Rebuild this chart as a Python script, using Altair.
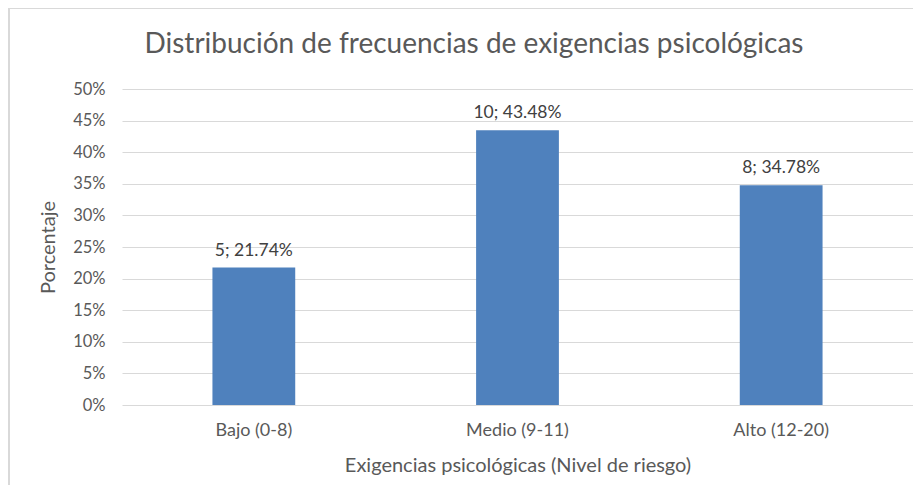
import altair as alt
import pandas as pd

categories = ["Bajo (0-8)", "Medio (9-11)", "Alto (12-20)"]
counts = [5, 10, 8]
percents = [0.2174, 0.4348, 0.3478]
labels = ["5; 21.74%", "10; 43.48%", "8; 34.78%"]
title_text = ["Distribución de frecuencias de exigencias psicológicas"]

df = pd.DataFrame({"cat": categories, "n": counts, "pct": percents, "label": labels})
df_title = pd.DataFrame({"t": title_text})

FONT = "Lato"
GREY = "#595959"

x = alt.X("cat:N", sort=categories,
          scale=alt.Scale(paddingInner=0.686, paddingOuter=0.343),
          axis=alt.Axis(title="Exigencias psicológicas (Nivel de riesgo)", labelAngle=0,
                        ticks=False, domain=False, labelPadding=16, titlePadding=16,
                        labelFontSize=18, titleFontSize=20, labelColor=GREY, titleColor=GREY,
                        labelFont=FONT, titleFont=FONT, titleFontWeight="normal"))
y = alt.Y("pct:Q", scale=alt.Scale(domain=[0, 0.5]),
          axis=alt.Axis(title="Porcentaje", format=".0%", values=[i / 100 for i in range(0, 55, 5)],
                        ticks=False, domain=False, labelPadding=17, titlePadding=14,
                        labelFontSize=16.5, titleFontSize=20, labelColor=GREY, titleColor=GREY,
                        labelFont=FONT, titleFont=FONT, titleFontWeight="normal",
                        gridColor="#d9d9d9", gridWidth=1, labelOverlap=False))

bars = alt.Chart(df).mark_bar(color="#4f81bd").encode(x=x, y=y)
text = alt.Chart(df).mark_text(baseline="bottom", dy=-8, fontSize=17.5, font=FONT, color="#404040").encode(
    x=x, y=y, text="label:N")

title = alt.Chart(df_title).mark_text(fontSize=28, font=FONT, color=GREY, baseline="middle", align="center").encode(
    x=alt.value(352), y=alt.value(-44), text="t:N")

border_left = alt.Chart(df).mark_rule(color="#d9d9d9", strokeWidth=1.5).encode(
    x=alt.value(-113), y=alt.value(-81), y2=alt.value(420))
border_top = alt.Chart(df).mark_rule(color="#d9d9d9", strokeWidth=1.5).encode(
    x=alt.value(-113), x2=alt.value(800), y=alt.value(-81))

chart = alt.layer(bars, text, title, border_left, border_top).properties(
    width=791, height=316,
    autosize=alt.AutoSizeParams(type="none"),
    padding={"left": 114, "top": 81, "right": 0, "bottom": 80},
).configure_view(stroke=None)

chart.save("out.html", embed_options={"renderer": "svg", "actions": False})
